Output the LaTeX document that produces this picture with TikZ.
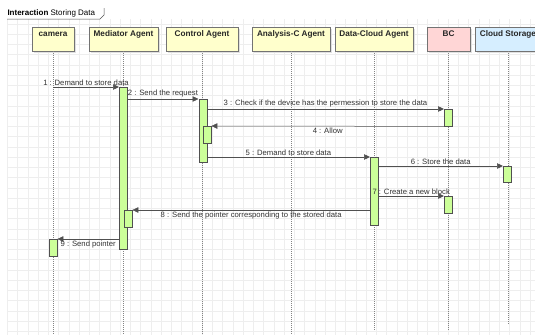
\documentclass[tikz,border=0pt]{standalone}
\usepackage{fontspec}
\setmainfont{Liberation Sans}
\usetikzlibrary{arrows.meta,calc,shadows}
\definecolor{hdr}{HTML}{FFFFCC}
\definecolor{bcfill}{HTML}{FFD6D6}
\definecolor{csfill}{HTML}{D6EEFF}
\definecolor{actfill}{HTML}{CCFF99}
\definecolor{gridc}{HTML}{EEEEEE}
\definecolor{linec}{HTML}{505050}
\definecolor{txtc}{HTML}{333333}
\begin{document}
\begin{tikzpicture}[x=1pt,y=-1pt,
  every node/.style={font=\fontsize{7.7}{9}\selectfont, text=txtc},
  head/.style={draw=linec!80, fill=hdr, minimum height=24pt, inner xsep=0pt, inner ysep=2pt,
    text height=7.5pt, text depth=12.5pt, anchor=north,
    font=\fontsize{8.2}{9}\selectfont\bfseries, text=black!85,
    drop shadow={shadow xshift=2pt, shadow yshift=-2pt, fill=black!12, opacity=1}},
  act/.style={draw=linec, fill=actfill, minimum width=8pt, inner sep=0pt, anchor=north west},
  life/.style={draw=linec!70, dash pattern=on 1pt off 1pt, line width=0.5pt},
  msg/.style={draw=linec, line width=0.5pt, -{Triangle[length=6pt,width=5.5pt]}},
  lab/.style={midway, inner sep=1.3pt}]
\useasboundingbox (0,0) rectangle (535,335);
\begin{scope}
\clip (0,0) rectangle (535,335);
% grid
\foreach \i in {0,...,51} \draw[gridc, line width=0.4pt] (7.3+\i*10.25,19) -- (7.3+\i*10.25,335);
\foreach \j in {0,...,30} \draw[gridc, line width=0.4pt] (7.3,23.75+\j*10.25) -- (535,23.75+\j*10.25);
% frame tab
\draw[linec, line width=0.5pt] (7,19) -- (100,19) -- (104,15) -- (104,8);
\node[anchor=west, inner sep=0pt, text=black, font=\fontsize{8}{9}\selectfont] (title) at (7.3,13) {\textbf{Interaction} Storing Data};
% headers
\node[head, minimum width=42pt] (h1) at (53,27) {camera};
\node[head, minimum width=69pt] (h2) at (123.5,27) {Mediator Agent};
\node[head, minimum width=72pt] (h3) at (202,27) {Control Agent};
\node[head, minimum width=78pt] (h4) at (291,27) {Analysis-C Agent};
\node[head, minimum width=78pt] (h5) at (374,27) {Data-Cloud Agent};
\node[head, minimum width=43pt, fill=bcfill] (h6) at (448.5,27) {BC};
\node[head, minimum width=66pt, fill=csfill] (h7) at (508,27) {Cloud Storage};
% lifelines
\coordinate (e1) at (53,335);
\coordinate (e2) at (123.5,335);
\coordinate (e3) at (202,335);
\coordinate (e4) at (291,335);
\coordinate (e5) at (374,330);
\coordinate (e6) at (448.5,330);
\coordinate (e7) at (508,324);
\foreach \k in {1,...,7} \draw[life] (h\k.south) -- (e\k);
% activations
\node[act, minimum height=162pt] (a1) at (119,87) {};
\node[act, minimum height=63pt] (a2) at (198.5,99) {};
\node[act, minimum height=17pt] (a3) at (444,109) {};
\node[act, minimum height=17pt] (a4) at (203,126) {};
\node[act, minimum height=68pt] (a5) at (370,157) {};
\node[act, minimum height=16pt] (a6) at (503,166) {};
\node[act, minimum height=17pt] (a7) at (444,196) {};
\node[act, minimum height=17pt] (a8) at (124,210) {};
\node[act, minimum height=17pt] (a9) at (49,239) {};
% messages
\draw[msg] (h1.south |- a1.north west) -- node[lab, above] {1 : Demand to store data} (a1.north west);
\draw[msg] (a1.east |- a2.north west) -- node[lab, above] {2 : Send the request} (a2.north west);
\draw[msg] (a2.east |- a3.north west) -- node[lab, above] {3 : Check if the device has the permession to store the data} (a3.north west);
\draw[msg] (a3.south west) -- node[lab, below] {4 : Allow} (a4.north east);
\draw[msg] (a2.east |- a5.north west) -- node[lab, above] {5 : Demand to store data} (a5.north west);
\draw[msg] (a5.east |- a6.north west) -- node[lab, above] {6 : Store the data} (a6.north west);
\draw[msg] (a5.east |- a7.north west) -- node[lab, above] {7 : Create a new block} (a7.north west);
\draw[msg] (a5.west |- a8.north east) -- node[lab, below] {8 : Send the pointer corresponding to the stored data} (a8.north east);
\draw[msg] (a1.west |- a9.north east) -- node[lab, below] {9 : Send pointer} (a9.north east);
\end{scope}
\end{tikzpicture}
\end{document}
